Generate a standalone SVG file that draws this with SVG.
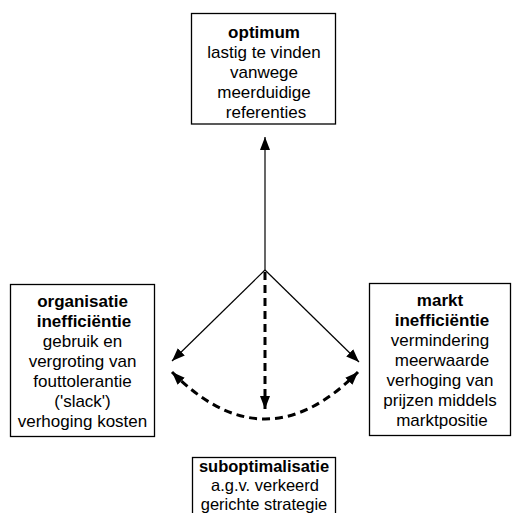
<svg xmlns="http://www.w3.org/2000/svg" width="512" height="513" viewBox="0 0 512 513">
<style>
.box{fill:#fff;stroke:#000;stroke-width:1.3}
.t{font-family:"Liberation Sans",Arial,sans-serif;font-size:17px;fill:#000;text-anchor:middle}
.s{font-size:16.5px}
.b{font-weight:bold}
.thin{fill:none;stroke:#000;stroke-width:1.2}
.dash{fill:none;stroke:#000;stroke-width:3;stroke-dasharray:8 5}
</style>
<defs>
<marker id="ah" markerUnits="userSpaceOnUse" markerWidth="14" markerHeight="12" viewBox="0 0 14 12" refX="13" refY="6" orient="auto">
<path d="M0,1 L13,6 L0,11 Z" fill="#000"/>
</marker>
<marker id="ahd" markerUnits="userSpaceOnUse" markerWidth="14" markerHeight="12" viewBox="0 0 14 12" refX="13" refY="6" orient="auto-start-reverse">
<path d="M0,1 L13,6 L0,11 Z" fill="#000"/>
</marker>
</defs>
<g id="connectors">
<line class="thin" x1="265" y1="270" x2="265" y2="137" marker-end="url(#ah)"/>
<line class="thin" x1="265" y1="270" x2="172" y2="361" marker-end="url(#ah)"/>
<line class="thin" x1="265" y1="270" x2="359" y2="362" marker-end="url(#ah)"/>
<line class="dash" x1="265" y1="272" x2="265" y2="409" marker-end="url(#ahd)"/>
<path class="dash" d="M172,372 Q265,466 358,372" marker-start="url(#ahd)" marker-end="url(#ahd)"/>
</g>
<g id="optimum">
<rect class="box" x="191.5" y="13.5" width="144" height="110.5"/>
<text class="t"><tspan class="b" x="264" y="38">optimum</tspan><tspan x="264" y="58">lastig te vinden</tspan><tspan x="264" y="78">vanwege</tspan><tspan x="264" y="98">meerduidige</tspan><tspan x="266" y="118">referenties</tspan></text>
</g>
<g id="organisatie">
<rect class="box" x="10.5" y="284.5" width="144" height="152"/>
<text class="t"><tspan class="b" x="82.5" y="307">organisatie</tspan><tspan class="b" x="84" y="327">inefficiëntie</tspan><tspan x="82.5" y="347">gebruik en</tspan><tspan x="82.5" y="367">vergroting van</tspan><tspan x="82.5" y="387">fouttolerantie</tspan><tspan x="82.5" y="407">('slack')</tspan><tspan x="82.5" y="427">verhoging kosten</tspan></text>
</g>
<g id="markt">
<rect class="box" x="369.5" y="283.5" width="141" height="152"/>
<text class="t"><tspan class="b" x="440" y="306">markt</tspan><tspan class="b" x="442" y="326">inefficiëntie</tspan><tspan x="440" y="346">vermindering</tspan><tspan x="442" y="366">meerwaarde</tspan><tspan x="440" y="386">verhoging van</tspan><tspan x="440" y="406">prijzen middels</tspan><tspan x="442" y="426">marktpositie</tspan></text>
</g>
<g id="suboptimalisatie">
<rect class="box" x="192.5" y="457.5" width="143" height="60"/>
<text class="t s"><tspan class="b" x="264" y="472">suboptimalisatie</tspan><tspan x="265" y="491">a.g.v. verkeerd</tspan><tspan x="264" y="510">gerichte strategie</tspan></text>
</g>
</svg>
